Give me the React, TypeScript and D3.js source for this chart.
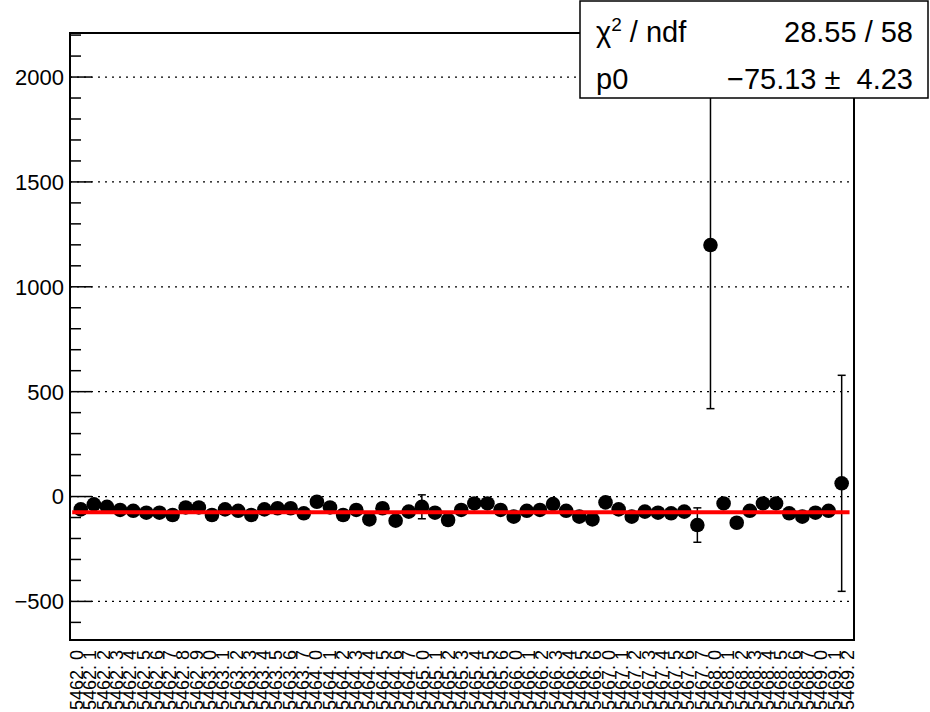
import * as d3 from 'd3'

// run.subrun labels, one per point
const runs = [
  ['5462', 10],
  ['5463', 8],
  ['5464', 8],
  ['5465', 7],
  ['5466', 7],
  ['5467', 8],
  ['5468', 8],
  ['5469', 3],
] as const
const labels: string[] = runs.flatMap(([r, n]) => d3.range(n).map((s) => `${r}. ${s}`))

const values = [
  -61, -37, -49, -64, -68, -77, -77, -88, -52, -52,
  -88, -61, -68, -88, -61, -56, -56, -80, -25, -52,
  -88, -64, -109, -56, -115, -72, -49, -77, -112, -64,
  -33, -33, -64, -96, -68, -64, -36, -68, -96, -109,
  -28, -61, -96, -72, -77, -80, -72, -136, 1199, -33,
  -125, -68, -33, -33, -80, -96, -77, -68, 63,
]
const errors = values.map((_, i) =>
  i === 26 ? 57 : i === 47 ? 82 : i === 48 ? 780 : i === 58 ? 515 : 20
)

const fitP0 = -75.13
const fitRange = [-0.65, 58.6]
const xDomain = [-0.82, 58.94]
const yDomain = [-684, 2210]

const W = 930
const H = 712
const frame = { left: 70, right: 854, top: 33, bottom: 640 }
const font = '"Liberation Sans", Arial, Helvetica, sans-serif'

export default function App() {
  const x = d3.scaleLinear().domain(xDomain).range([frame.left, frame.right])
  const xl = d3.scaleBand().domain(labels).range([frame.left, frame.right])
  const y = d3.scaleLinear().domain(yDomain).range([frame.bottom, frame.top])

  const major = d3.range(-500, 2001, 500)
  const minor = d3.range(-600, 2201, 100).filter((v) => v % 500 !== 0)
  const fmt = (v: number) => (v < 0 ? '\u2212' + Math.abs(v) : String(v))

  return (
    <svg
      width={W}
      height={H}
      style={{ position: 'absolute', left: 0, top: 0, background: '#fff' }}
      fontFamily={font}
    >
      {/* grid */}
      {major.map((v) => (
        <line
          key={'g' + v}
          x1={frame.left}
          x2={frame.right}
          y1={y(v)}
          y2={y(v)}
          stroke="#000"
          strokeWidth={1.2}
          strokeDasharray="2,5"
        />
      ))}

      {/* y ticks */}
      {major.map((v) => (
        <g key={'t' + v}>
          <line x1={frame.left} x2={frame.left + 22} y1={y(v)} y2={y(v)} stroke="#000" strokeWidth={1.5} />
          <text x={frame.left - 6} y={y(v)} dy="0.36em" textAnchor="end" fontSize={22}>
            {fmt(v)}
          </text>
        </g>
      ))}
      {minor.map((v) => (
        <line key={'m' + v} x1={frame.left} x2={frame.left + 11} y1={y(v)} y2={y(v)} stroke="#000" strokeWidth={1.5} />
      ))}

      {/* error bars */}
      {values.map((v, i) => {
        const cx = x(i)
        const y1 = y(v - errors[i])
        const y2 = y(v + errors[i])
        return (
          <g key={'e' + i} stroke="#000" strokeWidth={1.5}>
            <line x1={cx} x2={cx} y1={y1} y2={y2} />
            <line x1={cx - 4} x2={cx + 4} y1={y1} y2={y1} />
            <line x1={cx - 4} x2={cx + 4} y1={y2} y2={y2} />
          </g>
        )
      })}

      {/* markers */}
      {values.map((v, i) => (
        <circle key={'p' + i} cx={x(i)} cy={y(v)} r={7.3} fill="#000" />
      ))}

      {/* fit */}
      <line
        x1={x(fitRange[0])}
        x2={x(fitRange[1])}
        y1={y(fitP0)}
        y2={y(fitP0)}
        stroke="#ff0000"
        strokeWidth={4}
      />

      {/* frame */}
      <rect
        x={frame.left}
        y={frame.top}
        width={frame.right - frame.left}
        height={frame.bottom - frame.top}
        fill="none"
        stroke="#000"
        strokeWidth={2}
      />

      {/* x labels */}
      {labels.map((l) => {
        const cx = xl(l)! + xl.bandwidth() / 2
        return (
          <text
            key={l}
            transform={`translate(${cx},${frame.bottom + 10}) rotate(-90)`}
            textAnchor="end"
            dy="0.36em"
            fontSize={18}
            style={{ whiteSpace: 'pre' }}
          >
            {l}
          </text>
        )
      })}

      {/* stats box */}
      <g>
        <rect x={580} y={1} width={348} height={97} fill="#fff" stroke="#000" strokeWidth={1.5} />
        <text x={596} y={42} fontSize={29}>
          χ<tspan dy={-11} fontSize={19}>2</tspan>
          <tspan dy={11}> / ndf</tspan>
        </text>
        <text x={913} y={42} fontSize={29} textAnchor="end">
          28.55 / 58
        </text>
        <text x={596} y={89} fontSize={29}>
          p0
        </text>
        <text x={913} y={89} fontSize={29} textAnchor="end" style={{ whiteSpace: 'pre' }}>
          {'\u221275.13 \u00b1  4.23'}
        </text>
      </g>
    </svg>
  )
}
